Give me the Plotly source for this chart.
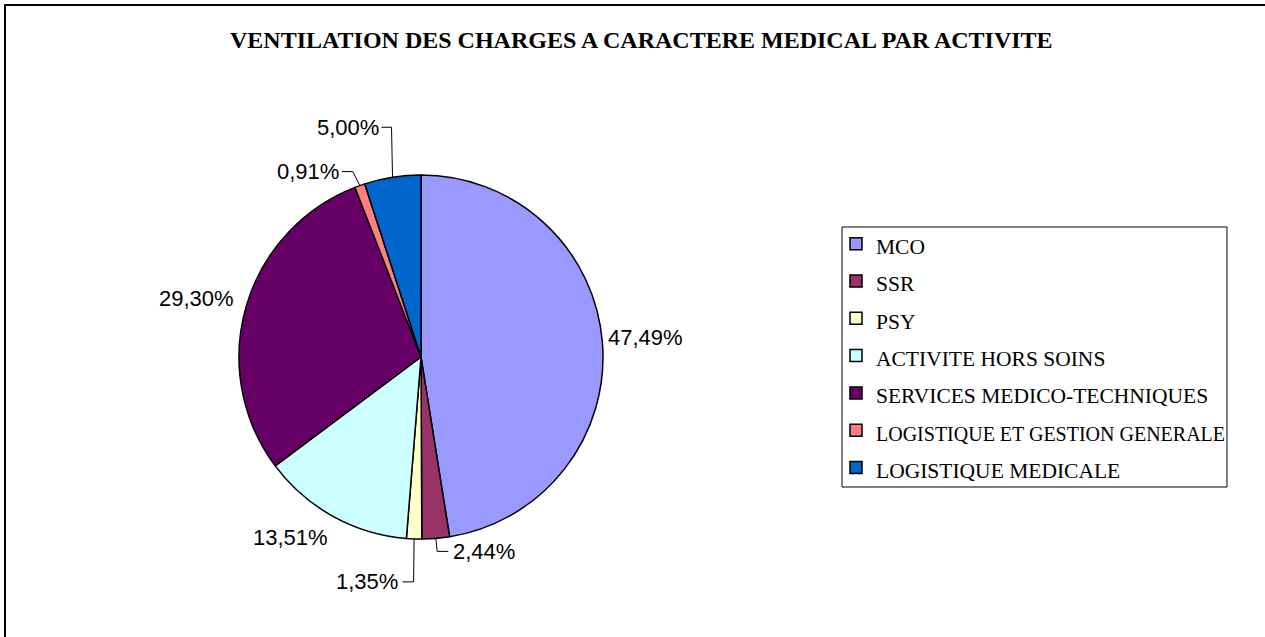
import math
import plotly.graph_objects as go

# ---------------- data ----------------
categories = [
    "MCO",
    "SSR",
    "PSY",
    "ACTIVITE HORS SOINS",
    "SERVICES MEDICO-TECHNIQUES",
    "LOGISTIQUE ET GESTION GENERALE",
    "LOGISTIQUE MEDICALE",
]
values = [47.49, 2.44, 1.35, 13.51, 29.30, 0.91, 5.00]
colors = ["#9999FF", "#993366", "#FFFFCC", "#CCFFFF", "#660066", "#FF8080", "#0066CC"]
title_text = "VENTILATION DES CHARGES A CARACTERE MEDICAL PAR ACTIVITE"

# ---------------- layout constants ----------------
W, H = 1265, 637
CX, CY, R = 421, 357, 182
LABEL_FONT = dict(family="Liberation Sans, Arial, sans-serif", size=22, color="black")
LEGEND_TEXT_PX = 21.5
LEGEND_MAX_TEXT_W = 349  # legend box inner width available for text


def px(x, y):
    return x / W, 1 - y / H


# label placement style per slice (offsets relative to slice mid-edge point)
label_style = [
    dict(kind="plain", dx=6, dy=-5, xanchor="left"),
    dict(kind="leader", bx=1.5, by=13, hl=11, gap=5, side=1),
    dict(kind="leader", bx=-0.5, by=43, hl=-11, gap=-5, side=-1),
    dict(kind="plain", dx=-5, dy=21, xanchor="right"),
    dict(kind="plain", dx=-12, dy=-8, xanchor="right"),
    dict(kind="leader", bx=-7, by=-14, hl=-11, gap=-3, side=-1),
    dict(kind="leader", bx=-1, by=-50, hl=-10, gap=-3, side=-1),
]

total = sum(values)
texts = [f"{v:.2f}".replace(".", ",") + "%" for v in values]


def legend_size(name):
    # shrink very long entries so they stay inside the legend frame
    est = len(name) * 0.58 * LEGEND_TEXT_PX
    return 20 if est > LEGEND_MAX_TEXT_W + 20 else LEGEND_TEXT_PX


fig = go.Figure()
x0, y0 = px(CX - R, CY + R)
x1, y1 = px(CX + R, CY - R)
fig.add_trace(
    go.Pie(
        labels=[f"<span style='font-size:{legend_size(c)}px'>{c}</span>" for c in categories],
        values=values,
        sort=False,
        direction="clockwise",
        rotation=0,
        marker=dict(colors=colors, line=dict(color="black", width=1.5)),
        textinfo="none",
        hoverinfo="label+percent",
        domain=dict(x=[x0, x1], y=[y0, y1]),
        showlegend=True,
    )
)

annotations = []
shapes = []
cum = 0.0
for v, t, st in zip(values, texts, label_style):
    mid = (cum + v / 2) / total * 2 * math.pi
    cum += v
    ex = CX + R * math.sin(mid)
    ey = CY - R * math.cos(mid)
    if st["kind"] == "plain":
        lx, ly = ex + st["dx"], ey + st["dy"]
        xa = st["xanchor"]
    else:
        bx, by = ex + st["bx"], ey + st["by"]
        hx = bx + st["hl"]
        p = [px(ex, ey), px(bx, by), px(hx, by)]
        path = "M {} {} L {} {} L {} {}".format(p[0][0], p[0][1], p[1][0], p[1][1], p[2][0], p[2][1])
        shapes.append(dict(type="path", xref="paper", yref="paper", path=path,
                           line=dict(color="black", width=1)))
        lx, ly = hx + st["gap"], by
        xa = "left" if st["side"] > 0 else "right"
    ax, ay = px(lx, ly)
    annotations.append(dict(x=ax, y=ay, xref="paper", yref="paper", text=t, showarrow=False,
                            xanchor=xa, yanchor="middle", font=LABEL_FONT, borderpad=0, borderwidth=0))

# title
tx, ty = px(641, 40)
annotations.append(dict(x=tx, y=ty, xref="paper", yref="paper", text=f"<b>{title_text}</b>",
                        showarrow=False, xanchor="center", yanchor="middle",
                        font=dict(family="Liberation Serif, Times New Roman, serif", size=24, color="black")))

# chart border (extends past the visible window on right/bottom)
bx0, by0 = px(5, 5)
shapes.append(dict(type="rect", xref="paper", yref="paper", x0=bx0, y0=-0.05, x1=1.05, y1=by0,
                   line=dict(color="black", width=2), fillcolor="rgba(0,0,0,0)"))
# legend box
lx0, ly0 = px(842, 227)
lx1, ly1 = px(1227, 487)
shapes.append(dict(type="rect", xref="paper", yref="paper", x0=lx0, y0=ly1, x1=lx1, y1=ly0,
                   line=dict(color="black", width=1), fillcolor="rgba(0,0,0,0)"))

lgx, lgy = px(836, 220)
fig.update_layout(
    width=W,
    height=H,
    margin=dict(l=0, r=0, t=0, b=0),
    paper_bgcolor="white",
    plot_bgcolor="white",
    showlegend=True,
    legend=dict(
        x=lgx, y=lgy, xanchor="left", yanchor="top",
        font=dict(family="Liberation Serif, Times New Roman, serif", size=26.4, color="black"),
        bgcolor="rgba(0,0,0,0)", borderwidth=0,
    ),
    annotations=annotations,
    shapes=shapes,
)

fig.write_html(
    "out.html",
    config={"displayModeBar": False},
    post_script="document.body.style.margin='0';document.body.style.overflow='hidden';",
)
